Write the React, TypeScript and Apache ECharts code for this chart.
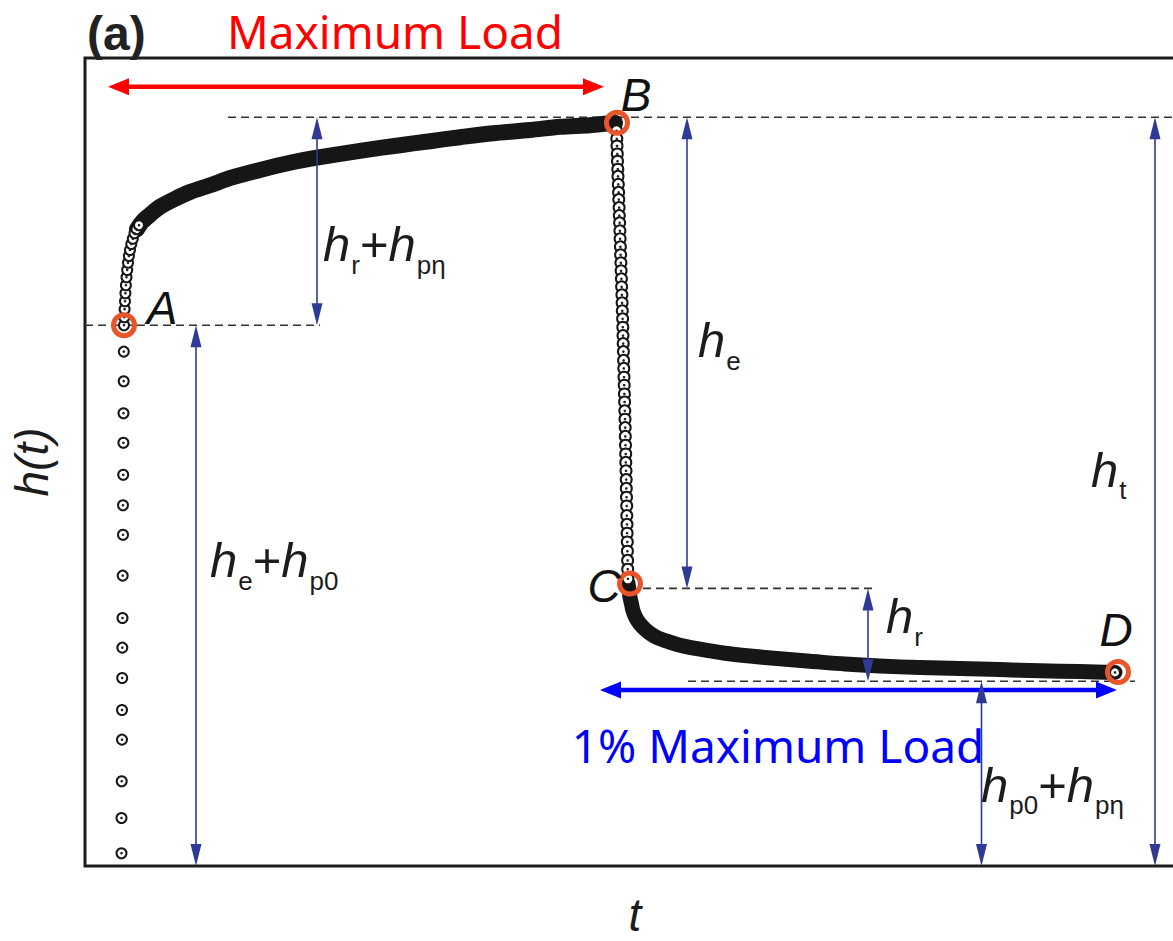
import React, { useEffect, useRef } from 'react';
import * as echarts from 'echarts';

// ---- Indentation depth h(t) versus time t ----
// Loading to maximum load (sparse samples up to A)
const loadingT = [3.65, 3.65, 3.67, 3.7, 3.7, 3.72, 3.73, 3.75, 3.77, 3.8, 3.8, 3.82, 3.84, 3.85, 3.87, 3.88];
const loadingH = [1.6, 6.0, 10.6, 15.8, 19.5, 23.5, 27.3, 31.0, 36.3, 41.4, 45.1, 48.9, 52.9, 56.6, 60.6, 64.3];

// Hold at maximum load: first samples after A
const creepRiseT = [3.9, 3.93, 3.96, 4.0, 4.04, 4.09, 4.15, 4.22, 4.3, 4.39, 4.5, 4.63, 4.78, 4.95, 5.15, 5.4];
const creepRiseH = [67.6, 68.6, 69.6, 70.6, 71.6, 72.6, 73.6, 74.5, 75.4, 76.25, 77.0, 77.75, 78.4, 79.1, 79.6, 80.1];

// Hold at maximum load: dense samples up to B
const creepT = [5.2, 5.7, 6.5, 7.5, 9.0, 10.5, 12.5, 14.8, 17.5, 20.5, 23.5, 27.5, 31.5, 34.5, 37.5, 40.8, 44.5, 47.5, 50.5, 53.0];
const creepH = [79.6, 80.5, 81.4, 82.4, 83.4, 84.25, 85.1, 86.1, 87.0, 87.9, 88.6, 89.4, 90.1, 90.6, 91.1, 91.6, 92.0, 92.4, 92.6, 92.9];

// Unloading from B to C
const unloadT = [53.15, 53.18, 53.2, 53.23, 53.25, 53.28, 53.3, 53.33, 53.36, 53.38, 53.41, 53.43, 53.46, 53.49, 53.51,
  53.54, 53.56, 53.59, 53.61, 53.64, 53.66, 53.69, 53.71, 53.73, 53.76, 53.78, 53.8, 53.82, 53.84, 53.86, 53.88, 53.9,
  53.92, 53.94, 53.96, 53.98, 54.0, 54.02, 54.03, 54.05, 54.07, 54.08, 54.1, 54.12, 54.13, 54.15, 54.17, 54.18, 54.2,
  54.21, 54.23, 54.24, 54.26, 54.27, 54.29];
const unloadH = [91.9, 90.9, 90.0, 89.0, 88.1, 87.1, 86.2, 85.2, 84.2, 83.3, 82.3, 81.3, 80.4, 79.4, 78.4, 77.4, 76.4,
  75.4, 74.4, 73.4, 72.4, 71.4, 70.4, 69.4, 68.4, 67.35, 66.3, 65.3, 64.3, 63.2, 62.2, 61.1, 60.1, 59.0, 58.0, 56.9,
  55.85, 54.8, 53.7, 52.6, 51.5, 50.45, 49.4, 48.3, 47.2, 46.1, 45.0, 43.8, 42.7, 41.6, 40.5, 39.35, 38.2, 37.1, 35.9];

// Hold at 1% of maximum load: recovery from C to D
const recoveryT = [54.3, 54.4, 54.5, 54.65, 54.8, 55.1, 55.5, 56.0, 56.6, 57.3, 58.2, 59.5, 61.5, 64.0, 66.5, 69.5,
  72.5, 76.0, 79.5, 83.5, 87.5, 91.5, 95.5, 99.5, 103.0];
const recoveryH = [35.3, 34.5, 33.6, 32.75, 31.9, 31.0, 30.25, 29.6, 29.0, 28.5, 28.1, 27.6, 27.1, 26.6, 26.25, 25.9,
  25.6, 25.25, 25.0, 24.8, 24.7, 24.55, 24.4, 24.3, 24.2];

// Marked points
const keyNames = ['A', 'B', 'C', 'D'];
const keyT = [3.9, 53.2, 54.5, 103.3];
const keyH = [67.6, 92.9, 35.3, 24.25];

// Reference depth levels used by the dimension lines
const levelA = 67.6;
const levelB = 93.6;
const levelC = 34.7;
const levelD = 23.1;

// Dashed reference lines: [tStart, tEnd, level]
const dashedLines = [
  [0, 23.5, levelA],
  [14.3, 110, levelB],
  [55.8, 79.2, levelC],
  [60.3, 105, levelD],
];

// Dimension arrows: [t, hLow, hHigh]
const dimArrows = [
  [11.1, 0, levelA],
  [23.2, levelA, levelB],
  [60.2, levelC, levelB],
  [78.3, levelD, levelC],
  [89.65, 0, levelD],
  [107, 0, levelB],
];

// Dimension labels: [t, h, rich text] (anchor = top-left of the italic h)
const dimLabels: [number, number, string][] = [
  [23.8, 80.8, '{h|h}{s|r}{o|+}{h|h}{s|pη}'],
  [61.3, 68.8, '{h|h}{s|e}'],
  [12.5, 41.3, '{h|h}{s|e}{o|+}{h|h}{s|p0}'],
  [100.6, 52.6, '{h|h}{s|t}'],
  [80.1, 34.3, '{h|h}{s|r}'],
  [89.6, 13.2, '{h|h}{s|p0}{o|+}{h|h}{s|pη}'],
];

// Load spans: [tStart, tEnd, h, label, labelT, labelH, colour]
const loadSpans: [number, number, number, string, number, number, string][] = [
  [2.3, 51.9, 97.4, 'Maximum Load', 31.0, 104.4, '#ff0000'],
  [51.5, 103.2, 22.0, '1% Maximum Load', 69.3, 15.1, '#0000ff'],
];

// Letter offsets (px) from each marked point
const keyLabelOffsets = [[38, -17], [19, -28], [-26, 2], [-2, -42]];

const zip = (t: number[], h: number[]) => t.map((v, i) => [v, h[i]]);

const SANS = 'Liberation Sans';
const INK = '#1c1c1c';
const NAVY = '#2f3a96';
const ORANGE = '#e8552a';

// Annulus used to mark the key points (outer r 13, inner r 8)
const RING_PATH =
  'path://M13,0 A13,13 0 1,1 13,26 A13,13 0 1,1 13,0 Z M13,5 A8,8 0 1,0 13,21 A8,8 0 1,0 13,5 Z';

const ringSeries = (name: string, data: number[][], size: number) => [
  {
    name,
    type: 'scatter',
    data,
    symbol: 'emptyCircle',
    symbolSize: size,
    itemStyle: { color: '#161616', borderColor: '#161616', borderWidth: 1.8, opacity: 1 },
    silent: true,
    z: 3,
  },
  {
    name: name + ' centre',
    type: 'scatter',
    data,
    symbol: 'circle',
    symbolSize: 2.6,
    itemStyle: { color: '#222', opacity: 1 },
    silent: true,
    z: 4,
  },
];

const bandSeries = (name: string, data: number[][], width: number) => ({
  name,
  type: 'line',
  data,
  showSymbol: false,
  smooth: 0.3,
  lineStyle: { color: '#161616', width, cap: 'round', join: 'round' },
  silent: true,
  z: 2,
});

export default function App() {
  const ref = useRef<HTMLDivElement>(null);

  useEffect(() => {
    const chart = echarts.init(ref.current!, null, { renderer: 'svg' });
    const lastRec = [[recoveryT[recoveryT.length - 1], recoveryH[recoveryH.length - 1]]];

    chart.setOption({
      animation: false,
      backgroundColor: '#fff',
      grid: {
        left: 85, top: 58, right: -12, bottom: 75,
        outerBoundsMode: 'none',
        containLabel: false,
        show: true, borderColor: INK, borderWidth: 3, backgroundColor: 'transparent',
      },
      xAxis: {
        type: 'value', min: 0, max: 110,
        axisLine: { show: false }, axisTick: { show: false }, axisLabel: { show: false }, splitLine: { show: false },
        name: 't', nameLocation: 'middle', nameGap: 26,
        nameTextStyle: { fontFamily: SANS, fontStyle: 'italic', fontSize: 46, color: INK },
      },
      yAxis: {
        type: 'value', min: 0, max: 101,
        axisLine: { show: false }, axisTick: { show: false }, axisLabel: { show: false }, splitLine: { show: false },
        name: 'h(t)', nameLocation: 'middle', nameGap: 30, nameRotate: 90,
        nameTextStyle: { fontFamily: SANS, fontStyle: 'italic', fontSize: 46, color: INK },
      },
      series: [
        bandSeries('Creep', zip(creepT, creepH), 16),
        bandSeries('Recovery', zip(recoveryT, recoveryH), 15),
        ...ringSeries('Loading', zip(loadingT, loadingH), 10),
        ...ringSeries('Creep start', zip(creepRiseT, creepRiseH), 10),
        ...ringSeries('Unloading', zip(unloadT, unloadH), 11),
        ...ringSeries('Recovery end', lastRec, 10),
        {
          name: 'Key points',
          type: 'scatter',
          data: keyNames.map((n, i) => ({ name: n, value: [keyT[i], keyH[i]] })),
          symbol: RING_PATH,
          symbolSize: 26,
          itemStyle: { color: ORANGE, opacity: 1 },
          silent: true,
          z: 10,
        },
      ],
    });

    const P = (t: number, h: number) => chart.convertToPixel({ seriesIndex: 0 }, [t, h]) as number[];
    const g: any[] = [];

    const head = (x: number, y: number, dx: number, dy: number, len: number, hw: number, color: string) => {
      const bx = x - dx * len;
      const by = y - dy * len;
      return {
        type: 'polygon', z: 20, silent: true,
        shape: { points: [[x, y], [bx - dy * hw, by + dx * hw], [bx + dy * hw, by - dx * hw]] },
        style: { fill: color },
      };
    };

    dashedLines.forEach(([t0, t1, h]) => {
      const a = P(t0, h);
      const b = P(t1, h);
      g.push({
        type: 'line', z: 1, silent: true,
        shape: { x1: a[0], y1: a[1], x2: b[0], y2: b[1] },
        style: { stroke: '#333', lineWidth: 1.6, lineDash: [8, 5] },
      });
    });

    dimArrows.forEach(([t, h0, h1]) => {
      const lo = P(t, h0);
      const hi = P(t, h1);
      g.push({
        type: 'line', z: 19, silent: true,
        shape: { x1: lo[0], y1: lo[1] - 4, x2: hi[0], y2: hi[1] + 4 },
        style: { stroke: NAVY, lineWidth: 1.6 },
      });
      g.push(head(hi[0], hi[1], 0, -1, 22, 5.5, NAVY));
      g.push(head(lo[0], lo[1], 0, 1, 22, 5.5, NAVY));
    });

    dimLabels.forEach(([t, h, text]) => {
      const p = P(t, h);
      g.push({
        type: 'text', x: p[0], y: p[1], z: 25, silent: true,
        style: {
          text, textAlign: 'left', align: 'left', textVerticalAlign: 'top', verticalAlign: 'top',
          fill: INK,
          rich: {
            h: { fontFamily: SANS, fontStyle: 'italic', fontSize: 49, lineHeight: 38, fill: INK, verticalAlign: 'top' },
            o: { fontFamily: SANS, fontSize: 49, lineHeight: 38, fill: INK, verticalAlign: 'top' },
            s: { fontFamily: SANS, fontSize: 26, fill: INK, verticalAlign: 'top', padding: [32, 0, 0, 1] },
          },
        },
      });
    });

    loadSpans.forEach(([t0, t1, h, label, lt, lh, color]) => {
      const a = P(t0, h);
      const b = P(t1, h);
      g.push({
        type: 'line', z: 19, silent: true,
        shape: { x1: a[0] + 10, y1: a[1], x2: b[0] - 10, y2: b[1] },
        style: { stroke: color, lineWidth: 4.5 },
      });
      g.push(head(a[0], a[1], -1, 0, 21, 8.5, color));
      g.push(head(b[0], b[1], 1, 0, 21, 8.5, color));
      const lp = P(lt, lh);
      g.push({
        type: 'text', x: lp[0], y: lp[1], z: 25, silent: true,
        style: {
          text: label, fill: color, fontFamily: 'Noto Sans', fontSize: 46, lineHeight: 40,
          textAlign: 'center', align: 'center', textVerticalAlign: 'middle', verticalAlign: 'middle',
        },
      });
    });

    keyNames.forEach((n, i) => {
      const p = P(keyT[i], keyH[i]);
      g.push({
        type: 'text', x: p[0] + keyLabelOffsets[i][0], y: p[1] + keyLabelOffsets[i][1], z: 25, silent: true,
        style: {
          text: n, fill: '#111', fontFamily: SANS, fontStyle: 'italic', fontSize: 46,
          textAlign: 'center', align: 'center', textVerticalAlign: 'middle', verticalAlign: 'middle',
        },
      });
    });

    g.push({
      type: 'text', x: 87, y: 33, z: 25, silent: true,
      style: {
        text: '(a)', fill: '#222', fontFamily: SANS, fontWeight: 'bold', fontSize: 48,
        textAlign: 'left', align: 'left', textVerticalAlign: 'middle', verticalAlign: 'middle',
      },
    });

    chart.setOption({ graphic: g });

    return () => chart.dispose();
  }, []);

  return (
    <div
      ref={ref}
      style={{ position: 'fixed', left: 0, top: 0, width: 1173, height: 941, background: '#fff' }}
    />
  );
}
